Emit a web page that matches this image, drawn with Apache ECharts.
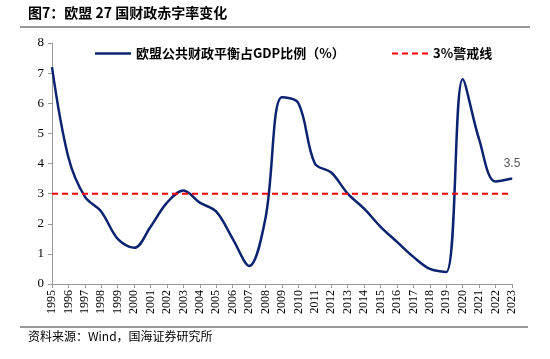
<!DOCTYPE html>
<html><head><meta charset="utf-8">
<script src="https://cdn.jsdelivr.net/npm/echarts@6/dist/echarts.min.js"></script>
<style>html,body{margin:0;padding:0;background:#fff}#c{width:550px;height:359px}</style>
</head><body><div id="c"></div>
<script>
var years = ['1995','1996','1997','1998','1999','2000','2001','2002','2003','2004','2005','2006','2007','2008','2009','2010','2011','2012','2013','2014','2015','2016','2017','2018','2019','2020','2021','2022','2023'];
var deficit = [7.2,4.2,2.9,2.4,1.5,1.2,1.9,2.7,3.1,2.7,2.4,1.5,0.6,2.2,6.2,6.0,4.0,3.7,3.0,2.5,1.9,1.4,0.9,0.5,0.4,6.8,4.8,3.4,3.5];
var warning = [3,3,3,3,3,3,3,3,3,3,3,3,3,3,3,3,3,3,3,3,3,3,3,3,3,3,3,3,3];
var yTicks = [0,1,2,3,4,5,6,7,8];
var seriesNames = ['欧盟公共财政平衡占GDP比例（%）','3%警戒线'];
var titleText = '图7：欧盟 27 国财政赤字率变化';
var sourceText = '资料来源：Wind，国海证券研究所';

var chart = echarts.init(document.getElementById('c'), null, {renderer:'canvas'});
var last = deficit.length - 1;
var legendText = {fontFamily:'Noto Sans CJK SC',fontWeight:'bold',fontSize:13,color:'#000'};
chart.setOption({
  animation:false,
  backgroundColor:'#fff',
  grid:{left:52,right:38,top:43,bottom:75,containLabel:false},
  legend:[
    {left:90, top:42, itemWidth:36, itemHeight:2.5, itemGap:5, textStyle:legendText,
     data:[{name:seriesNames[0],icon:'rect'}]},
    {left:387, top:42, itemWidth:36, itemHeight:2.5, textStyle:legendText,
     data:[{name:seriesNames[1],icon:'path://M0,0H6V2H0ZM10,0H16V2H10ZM20,0H26V2H20ZM30,0H36V2H30Z'}]}
  ],
  xAxis:{
    type:'category', data:years, boundaryGap:false,
    axisLine:{lineStyle:{color:'#999',width:1}},
    axisTick:{show:true,alignWithLabel:true,length:4,lineStyle:{color:'#999'}},
    axisLabel:{rotate:90,fontFamily:'Liberation Serif',fontSize:12,color:'#000',margin:6,interval:0}
  },
  yAxis:{
    type:'value', min:yTicks[0], max:yTicks[yTicks.length-1], interval:1,
    splitLine:{show:false},
    axisLine:{show:true,lineStyle:{color:'#999'}},
    axisTick:{show:true,length:4,lineStyle:{color:'#999'}},
    axisLabel:{fontFamily:'Liberation Serif',fontSize:13,color:'#000',margin:8}
  },
  series:[
    {name:seriesNames[0],type:'line',
     data:deficit.map(function(v,i){
        return i===last?{value:v,symbol:'circle',symbolSize:1,
          label:{show:true,position:'top',distance:8,color:'#595959',fontFamily:'Liberation Sans',fontSize:12}}:
          {value:v,symbol:'none'};}),
     smooth:0.35,showSymbol:true,showAllSymbol:true,
     lineStyle:{color:'#0c2370',width:2.5},itemStyle:{color:'#0c2370'}},
    {name:seriesNames[1],type:'line',data:warning,symbol:'none',
     lineStyle:{color:'#ff0000',width:2,type:[6,4]},itemStyle:{color:'#ff0000'}}
  ],
  graphic:[
    {type:'text',left:28,top:6,style:{text:titleText,font:'bold 14px "Noto Sans CJK SC"',fill:'#000'}},
    {type:'line',shape:{x1:20,y1:27,x2:530,y2:27},style:{stroke:'#999',lineWidth:2}},
    {type:'line',shape:{x1:20,y1:327,x2:528,y2:327},style:{stroke:'#333',lineWidth:1.2}},
    {type:'text',left:28,top:330,style:{text:sourceText,font:'12px "Noto Sans CJK SC"',fill:'#000'}}
  ]
});
</script></body></html>
